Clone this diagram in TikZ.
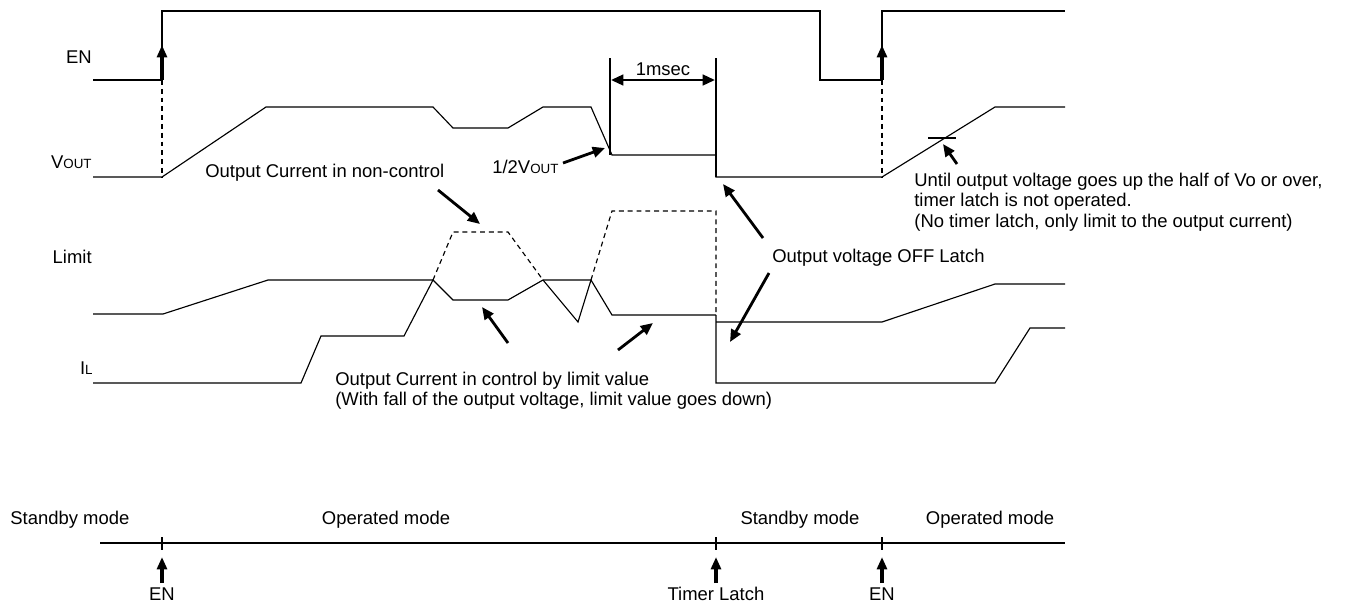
\documentclass[tikz,border=0pt]{standalone}
\usepackage{fontspec}
\setmainfont{Liberation Sans}
\usetikzlibrary{arrows.meta}
\newcommand{\sigsub}[1]{{\fontsize{7.6pt}{8pt}\selectfont #1}}

\begin{document}
\begin{tikzpicture}[x=0.02cm,y=-0.02cm,
    every node/.style={font=\fontsize{10.5pt}{11.6pt}\selectfont, inner sep=0pt},
    wave/.style={line width=0.65pt},
    hidden/.style={line width=0.65pt, dash pattern=on 2.8pt off 2.2pt},
    pointer/.style={-{Triangle[length=7pt,width=6pt]}, line width=1.6pt},
    rise/.style={-{Triangle[length=7pt,width=5.6pt]}, line width=1.9pt}]
    \useasboundingbox (0,0) rectangle (1363,603);
    % EN
    \node[anchor=east] (lblen) at (92,57) {EN};
    \draw[wave] (93,80) -- (162,80) -- (162,11) -- (820,11) -- (820,80)
      -- (882,80) -- (882,11) -- (1065,11);
    \draw[rise] (162,80) -- (162,45);
    \draw[rise] (882,80) -- (882,45);
    \draw[hidden] (162,80) -- (162,177);
    \draw[hidden] (882,80) -- (882,177);
    % VOUT
    \node[anchor=east] (lblvout) at (92,162) {V\sigsub{OUT}};
    \draw[wave] (93,177) -- (162,177) -- (266,107) -- (433,107) -- (453,128)
      -- (508,128) -- (543,107) -- (591,107) -- (612,155) -- (716,155)
      -- (716,177) -- (882,177) -- (995,107) -- (1065,107);
    % 1msec
    \draw[line width=1.1pt] (610,58) -- (610,155);
    \draw[line width=1.1pt] (716,58) -- (716,177);
    \draw[{Triangle[length=7pt,width=6pt]}-{Triangle[length=7pt,width=6pt]},
      line width=1.5pt] (611,80) -- (715,80);
    \node (lblms) at (663,69) {1msec};
    \node[anchor=west] (lblhalf) at (492,167) {1/2V\sigsub{OUT}};
    \draw[pointer] (563,163) -- (605,148);
    % 1/2 Vo mark
    \draw[line width=1.4pt] (928,138) -- (956,138);
    \draw[pointer] (957,164) -- (943,144);
    \node[anchor=west, align=left] (lblnote) at (914,202)
      {Until output voltage goes up the half of Vo or over,\\
       timer latch is not operated.\\
       (No timer latch, only limit to the output current)};
    % Limit
    \node[anchor=east] (lbllimit) at (92,257) {Limit};
    \draw[wave] (93,314) -- (163,314) -- (268,280) -- (433,280) -- (453,300)
      -- (508,300) -- (543,280) -- (591,280) -- (612,315) -- (716,315);
    \draw[wave] (716,322) -- (882,322) -- (995,284) -- (1065,284);
    % IL
    \node[anchor=east] (lblil) at (93,368) {I\sigsub{L}};
    \draw[wave] (93,383) -- (301,383) -- (321,336) -- (404,336) -- (433,280);
    \draw[hidden] (433,280) -- (453,232) -- (508,232) -- (543,280);
    \draw[wave] (543,280) -- (578,322) -- (591,280);
    \draw[hidden] (591,280) -- (612,211) -- (716,211) -- (716,315);
    \draw[wave] (716,315) -- (716,383) -- (995,383) -- (1030,328) -- (1065,328);
    % 说明
    \node[anchor=west] (lblfree) at (205,173) {Output Current in non-control};
    \draw[pointer] (438,190) -- (480,224);
    \node[anchor=west, align=left] (lblctrl) at (335,391)
      {Output Current in control by limit value\\
       (With fall of the output voltage, limit value goes down)};
    \draw[pointer] (508,343) -- (482,307);
    \draw[pointer] (618,350) -- (653,323);
    \node[anchor=west] (lbloff) at (772,258) {Output voltage OFF Latch};
    \draw[pointer] (763,238) -- (723,184);
    \draw[pointer] (769,273) -- (730,342);
    % 模式
    \draw[wave] (100,543) -- (1065,543);
    \foreach \t in {162,716,882}
      \draw[wave] (\t,537) -- (\t,550);
    \node (en1) at (162,594) {EN};
    \node (latch) at (716,594) {Timer Latch};
    \node (en2) at (882,594) {EN};
    \draw[rise] (162,583) -- (162,557);
    \draw[rise] (716,583) -- (716,557);
    \draw[rise] (882,583) -- (882,557);
    \node[anchor=west] (stby1) at (10,520) {Standby mode};
    \node (oper1) at (386,520) {Operated mode};
    \node (stby2) at (800,520) {Standby mode};
    \node (oper2) at (990,520) {Operated mode};
\end{tikzpicture}
\end{document}
